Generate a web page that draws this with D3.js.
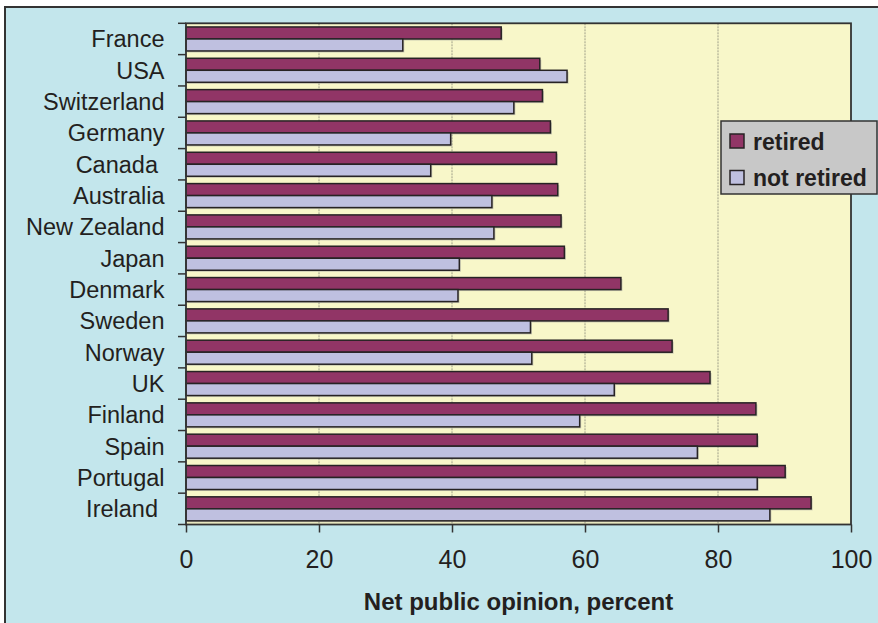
<!DOCTYPE html>
<html><head><meta charset="utf-8">
<script src="https://cdn.jsdelivr.net/npm/d3@7"></script>
<style>
html,body{margin:0;padding:0;background:#fff;}
svg{display:block;font-family:"Liberation Sans",Arial,sans-serif;}
</style></head>
<body><svg id="c" width="878" height="623"></svg>
<script>
const categories = ["France","USA","Switzerland","Germany","Canada ","Australia","New Zealand","Japan","Denmark","Sweden","Norway","UK","Finland","Spain","Portugal","Ireland "];
const retired    = [47.4,53.2,53.6,54.8,55.7,55.9,56.4,56.9,65.4,72.5,73.1,78.8,85.7,85.9,90.1,94.0];
const notRetired = [32.6,57.3,49.3,39.8,36.8,46.0,46.3,41.1,40.9,51.8,52.0,64.4,59.2,76.9,85.9,87.8];
const seriesNames = ["retired","not retired"];
const xTicks = [0,20,40,60,80,100];
const xTitle = "Net public opinion, percent";

const colors = ["#913566","#BFC0E0"];
const svg = d3.select("#c");

// outer frame
svg.append("rect").attr("x",5).attr("y",7).attr("width",880).attr("height",630)
  .attr("fill","#C3E6EC").attr("stroke","#333").attr("stroke-width",2);

const L=186, R=851, T=23.3, B=524.5;
const x = d3.scaleLinear().domain([0,100]).range([L,R]);
const y = d3.scaleBand().domain(categories).range([T,B]).padding(0);
const ys = d3.scaleBand().domain(seriesNames).range([0,y.bandwidth()]).paddingInner(0).paddingOuter(0.305);

// plot area
svg.append("rect").attr("x",L).attr("y",T).attr("width",R-L).attr("height",B-T)
  .attr("fill","#F8F7C9");

// gridlines
svg.append("g").selectAll("line").data(xTicks.filter(d=>d>0&&d<100)).join("line")
  .attr("x1",d=>x(d)).attr("x2",d=>x(d)).attr("y1",T).attr("y2",B)
  .attr("stroke","#9E9E88").attr("stroke-width",1).attr("stroke-dasharray","2,1");

const data = categories.map((c,i)=>({c, vals:[retired[i], notRetired[i]]}));

// bar shadows
const g = svg.append("g");
data.forEach(d=>{
  d.vals.forEach((v,j)=>{
    g.append("rect").attr("x",x(0)+1.5).attr("y",y(d.c)+ys(seriesNames[j])+1.5)
      .attr("width",x(v)-x(0)).attr("height",ys.bandwidth())
      .attr("fill","#999").attr("opacity",0.5);
  });
});
data.forEach(d=>{
  d.vals.forEach((v,j)=>{
    g.append("rect").attr("x",x(0)).attr("y",y(d.c)+ys(seriesNames[j]))
      .attr("width",x(v)-x(0)).attr("height",ys.bandwidth())
      .attr("fill",colors[j]).attr("stroke","#272324").attr("stroke-width",1.5);
  });
});

// plot border
svg.append("rect").attr("x",L).attr("y",T).attr("width",R-L).attr("height",B-T)
  .attr("fill","none").attr("stroke","#333").attr("stroke-width",1.8);

// y axis: tick marks at band boundaries
const bounds = categories.map(c=>y(c)).concat([B]);
svg.append("g").selectAll("line").data(bounds).join("line")
  .attr("x1",L-8).attr("x2",L).attr("y1",d=>d).attr("y2",d=>d)
  .attr("stroke","#333").attr("stroke-width",1.5);
svg.append("g").selectAll("text").data(categories).join("text")
  .attr("x",164.5).attr("y",d=>y(d)+y.bandwidth()/2).attr("dy","0.36em")
  .attr("text-anchor","end").style("white-space","pre").attr("xml:space","preserve")
  .attr("font-size",23.5).attr("fill","#231F20").text(d=>d);

// x axis
const xa = svg.append("g").attr("transform",`translate(0,${B})`)
  .call(d3.axisBottom(x).tickValues(xTicks).tickSize(8).tickPadding(18).tickFormat(d3.format("d")));
xa.select(".domain").remove();
xa.selectAll("line").attr("stroke","#333").attr("stroke-width",1.5);
xa.selectAll("text").attr("font-size",25).attr("fill","#231F20").attr("font-family","Liberation Sans, Arial, sans-serif");

svg.append("text").attr("x",(L+R)/2).attr("y",610).attr("text-anchor","middle")
  .attr("font-size",24).attr("font-weight","bold").attr("fill","#231F20").text(xTitle);

// legend
const lg = svg.append("g");
lg.append("rect").attr("x",721).attr("y",121).attr("width",156).attr("height",73)
  .attr("fill","#C8C8C8").attr("stroke","#333").attr("stroke-width",1.5);
seriesNames.forEach((s,j)=>{
  const yy = 134 + j*36.5;
  lg.append("rect").attr("x",730).attr("y",yy).attr("width",14).attr("height",14)
    .attr("fill",colors[j]).attr("stroke","#272324").attr("stroke-width",1.5);
  lg.append("text").attr("x",753).attr("y",yy+15.5).attr("font-size",23).attr("font-weight","bold")
    .attr("fill","#231F20").text(s);
});
</script></body></html>
